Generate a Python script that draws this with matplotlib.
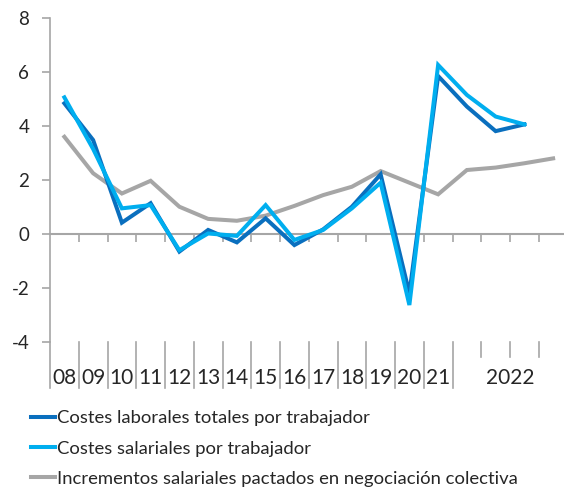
import numpy as np
import matplotlib
matplotlib.use("Agg")
import matplotlib.pyplot as plt
from matplotlib.lines import Line2D
import matplotlib.transforms as mtransforms

plt.rcParams['font.family'] = ['Lato', 'DejaVu Sans']

# ---- data ----
periods = ['08', '09', '10', '11', '12', '13', '14', '15', '16', '17', '18', '19', '20', '21',
           '2022T1', '2022T2', '2022T3', '2022T4']
year_labels = ['08', '09', '10', '11', '12', '13', '14', '15', '16', '17', '18', '19', '20', '21']
year_2022_label = '2022'
labour_costs = [4.84, 3.48, 0.42, 1.14, -0.65, 0.15, -0.31, 0.58, -0.41, 0.17, 1.01, 2.21, -2.20, 5.85,
                4.72, 3.81, 4.06, np.nan]
wage_costs = [5.06, 3.15, 0.95, 1.07, -0.60, 0.02, -0.07, 1.07, -0.22, 0.15, 0.95, 1.90, -2.63, 6.26,
              5.15, 4.35, 4.06, np.nan]
agreed_wages = [3.60, 2.25, 1.50, 1.97, 1.01, 0.56, 0.49, 0.68, 1.04, 1.44, 1.75, 2.33, 1.90, 1.47,
                2.37, 2.46, 2.62, 2.80]
series_names = ['Costes laborales totales por trabajador',
                'Costes salariales por trabajador',
                'Incrementos salariales pactados en negociación colectiva']
yticks = [-4, -2, 0, 2, 4, 6, 8]

# ---- style ----
c_dark = '#0A6FBE'
c_light = '#00AEEF'
c_gray = '#A6A6A6'
c_axis = '#A6A6A6'
txt = '#262626'

W, H = 564, 494
fig = plt.figure(figsize=(W / 100, H / 100), dpi=100)
ax_l, ax_r, ax_t, ax_b = 50, 567.5, 18, 342
ax = fig.add_axes([ax_l / W, 1 - ax_b / H, (ax_r - ax_l) / W, (ax_b - ax_t) / H])

x = np.arange(len(periods))
lw = 2.9
ax.plot(x, agreed_wages, color=c_gray, lw=lw, solid_joinstyle='miter', zorder=3, clip_on=False)
ax.plot(x, labour_costs, color=c_dark, lw=lw, solid_joinstyle='miter', zorder=4, clip_on=False)
ax.plot(x, wage_costs, color=c_light, lw=lw, solid_joinstyle='miter', zorder=5, clip_on=False)

ax.set_xlim(-0.5, len(periods) - 0.5)
ax.set_ylim(-4, 8)

for s in ['top', 'right']:
    ax.spines[s].set_visible(False)
ax.spines['left'].set_color(c_axis)
ax.spines['left'].set_linewidth(1.2)
ax.spines['bottom'].set_position(('data', 0))
ax.spines['bottom'].set_color(c_axis)
ax.spines['bottom'].set_linewidth(1.5)

ax.set_yticks(yticks)
ax.set_yticklabels([str(v) for v in yticks])
ax.tick_params(axis='y', direction='out', length=6, width=1.2, color=c_axis,
               labelsize=13.5, labelcolor=txt, pad=9)
ax.set_xticks(x[:-1] + 0.5)
ax.set_xticklabels([])
ax.tick_params(axis='x', direction='out', length=6, width=1.2, color=c_axis)

# category label area below the plot
trans = mtransforms.blended_transform_factory(ax.transData, ax.transAxes)
bottom_px = 388
long_y = -(bottom_px - ax_b) / (ax_b - ax_t)
short_y = -(357 - ax_b) / (ax_b - ax_t)
label_y = -(378 - ax_b) / (ax_b - ax_t)
n_years = len(year_labels)
for i in range(n_years + 1):
    ax.plot([i - 0.5, i - 0.5], [0, long_y], color=c_axis, lw=1.2, transform=trans, clip_on=False)
for i in range(n_years + 1, len(periods)):
    ax.plot([i - 0.5, i - 0.5], [0, short_y], color=c_axis, lw=1.2, transform=trans, clip_on=False)
for i, lab in enumerate(year_labels):
    ax.text(i, label_y, lab, transform=trans, ha='center', va='center', fontsize=15, color=txt)
ax.text((n_years + len(periods) - 1) / 2, label_y, year_2022_label, transform=trans,
        ha='center', va='center', fontsize=15, color=txt)

handles = [Line2D([], [], color=c_dark, lw=lw),
           Line2D([], [], color=c_light, lw=lw),
           Line2D([], [], color=c_gray, lw=lw)]
fig.legend(handles, series_names, loc='upper left', bbox_to_anchor=(24 / W, 1 - 403 / H),
           frameon=False, fontsize=13.3, handlelength=1.27, handletextpad=0.12,
           labelspacing=0.77, borderaxespad=0, labelcolor=txt)

fig.savefig('out.png', dpi=100)
